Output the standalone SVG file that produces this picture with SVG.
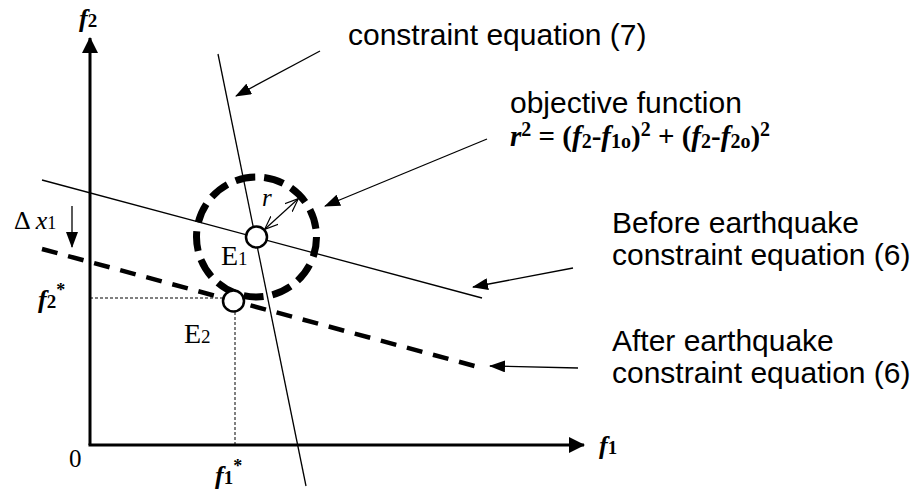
<svg xmlns="http://www.w3.org/2000/svg" width="918" height="490" viewBox="0 0 918 490">
<style>
.lab{font-family:"Liberation Sans",Arial,sans-serif;font-size:30px;fill:#000}
.math{font-family:"Liberation Serif","Times New Roman",serif;font-weight:bold;font-style:italic;fill:#000}
.rom{font-family:"Liberation Serif","Times New Roman",serif;fill:#000}
.up{font-style:normal}
.thin{stroke:#000;stroke-width:1.3;fill:none}
.axis{stroke:#000;stroke-width:3;fill:none}
.guide{stroke:#000;stroke-width:1;stroke-dasharray:3 2;fill:none}
.pt{fill:#fff;stroke:#000;stroke-width:2.5}
</style>
<defs>
<marker id="head" viewBox="0 0 16 12" refX="15" refY="6" markerWidth="16" markerHeight="12" markerUnits="userSpaceOnUse" orient="auto"><path d="M0,0 L16,6 L0,12 z" fill="#000"/></marker>
<marker id="axhead" viewBox="0 0 16 16" refX="15" refY="8" markerWidth="16" markerHeight="16" markerUnits="userSpaceOnUse" orient="auto"><path d="M0,0 L16,8 L0,16 z" fill="#000"/></marker>
<marker id="open" viewBox="0 0 14 12" refX="13" refY="6" markerWidth="14" markerHeight="12" markerUnits="userSpaceOnUse" orient="auto-start-reverse"><path d="M0,0.5 L13.5,6 L0,11.5" fill="none" stroke="#000" stroke-width="1.2"/></marker>
</defs>
<rect width="918" height="490" fill="#fff"/>

<g id="axes">
<path class="axis" d="M90,445 V38" marker-end="url(#axhead)"/>
<path class="axis" d="M88.5,445 H584" marker-end="url(#axhead)"/>
<text class="math" x="79" y="27" font-size="26">f<tspan class="up" font-size="19">2</tspan></text>
<text class="math" x="599" y="454" font-size="26">f<tspan class="up" font-size="19">1</tspan></text>
<text class="rom" x="69" y="467" font-size="25">0</text>
</g>

<g id="connectors">
<path class="thin" d="M218,54 L306,486"/>
<path class="thin" d="M42,180 L482,298"/>
<path d="M42,249 L482,368" stroke="#000" stroke-width="4.5" stroke-dasharray="16 11" fill="none"/>
<circle cx="256.5" cy="237" r="60" fill="none" stroke="#000" stroke-width="7" stroke-dasharray="20 9"/>
<path class="guide" d="M90,298 H223"/>
<path class="guide" d="M235,312 V445"/>
<path class="thin" d="M320,51 L236,96" marker-end="url(#head)"/>
<path class="thin" d="M487,139 L325,206" marker-end="url(#head)"/>
<path class="thin" d="M573,268 L473,287" marker-end="url(#head)"/>
<path class="thin" d="M578,368 L490,366" marker-end="url(#head)"/>
<path class="thin" d="M72,206 V247" marker-end="url(#head)"/>
<path d="M265,229 L298,199" stroke="#000" stroke-width="1.2" fill="none" marker-start="url(#open)" marker-end="url(#open)"/>
</g>

<g id="E1">
<circle class="pt" cx="256.5" cy="237" r="10.5"/>
<text class="rom" x="221" y="265" font-size="28">E<tspan font-size="19">1</tspan></text>
</g>
<g id="E2">
<circle class="pt" cx="233.5" cy="301" r="10.5"/>
<text class="rom" x="184" y="343" font-size="28">E<tspan font-size="19">2</tspan></text>
</g>

<g id="values">
<text class="math" x="38" y="308" font-size="26">f<tspan class="up" font-size="19">2</tspan><tspan class="up" font-size="18" dy="-12">*</tspan></text>
<text class="math" x="215" y="484" font-size="26">f<tspan class="up" font-size="19">1</tspan><tspan class="up" font-size="18" dy="-12">*</tspan></text>
<text class="rom" x="14" y="229" font-size="26">Δ <tspan font-style="italic">x</tspan><tspan font-size="18">1</tspan></text>
<text class="rom" x="262" y="206" font-size="25" font-style="italic">r</text>
</g>

<g id="labels">
<text class="lab" x="348" y="45">constraint equation (7)</text>
<text class="lab" x="510" y="113">objective function</text>
<text class="math" x="510" y="146" font-size="29">r<tspan class="up" font-size="20" dy="-10">2</tspan><tspan class="up" dy="10"> = (</tspan>f<tspan class="up" font-size="20" dy="2">2</tspan><tspan class="up" dy="-2">-</tspan>f<tspan class="up" font-size="20" dy="2">1o</tspan><tspan class="up" dy="-2">)</tspan><tspan class="up" font-size="20" dy="-10">2</tspan><tspan class="up" dy="10"> + (</tspan>f<tspan class="up" font-size="20" dy="2">2</tspan><tspan class="up" dy="-2">-</tspan>f<tspan class="up" font-size="20" dy="2">2o</tspan><tspan class="up" dy="-2">)</tspan><tspan class="up" font-size="20" dy="-10">2</tspan></text>
<text class="lab" x="612" y="233">Before earthquake</text>
<text class="lab" x="612" y="265">constraint equation (6)</text>
<text class="lab" x="612" y="351">After earthquake</text>
<text class="lab" x="612" y="383">constraint equation (6)</text>
</g>
</svg>
